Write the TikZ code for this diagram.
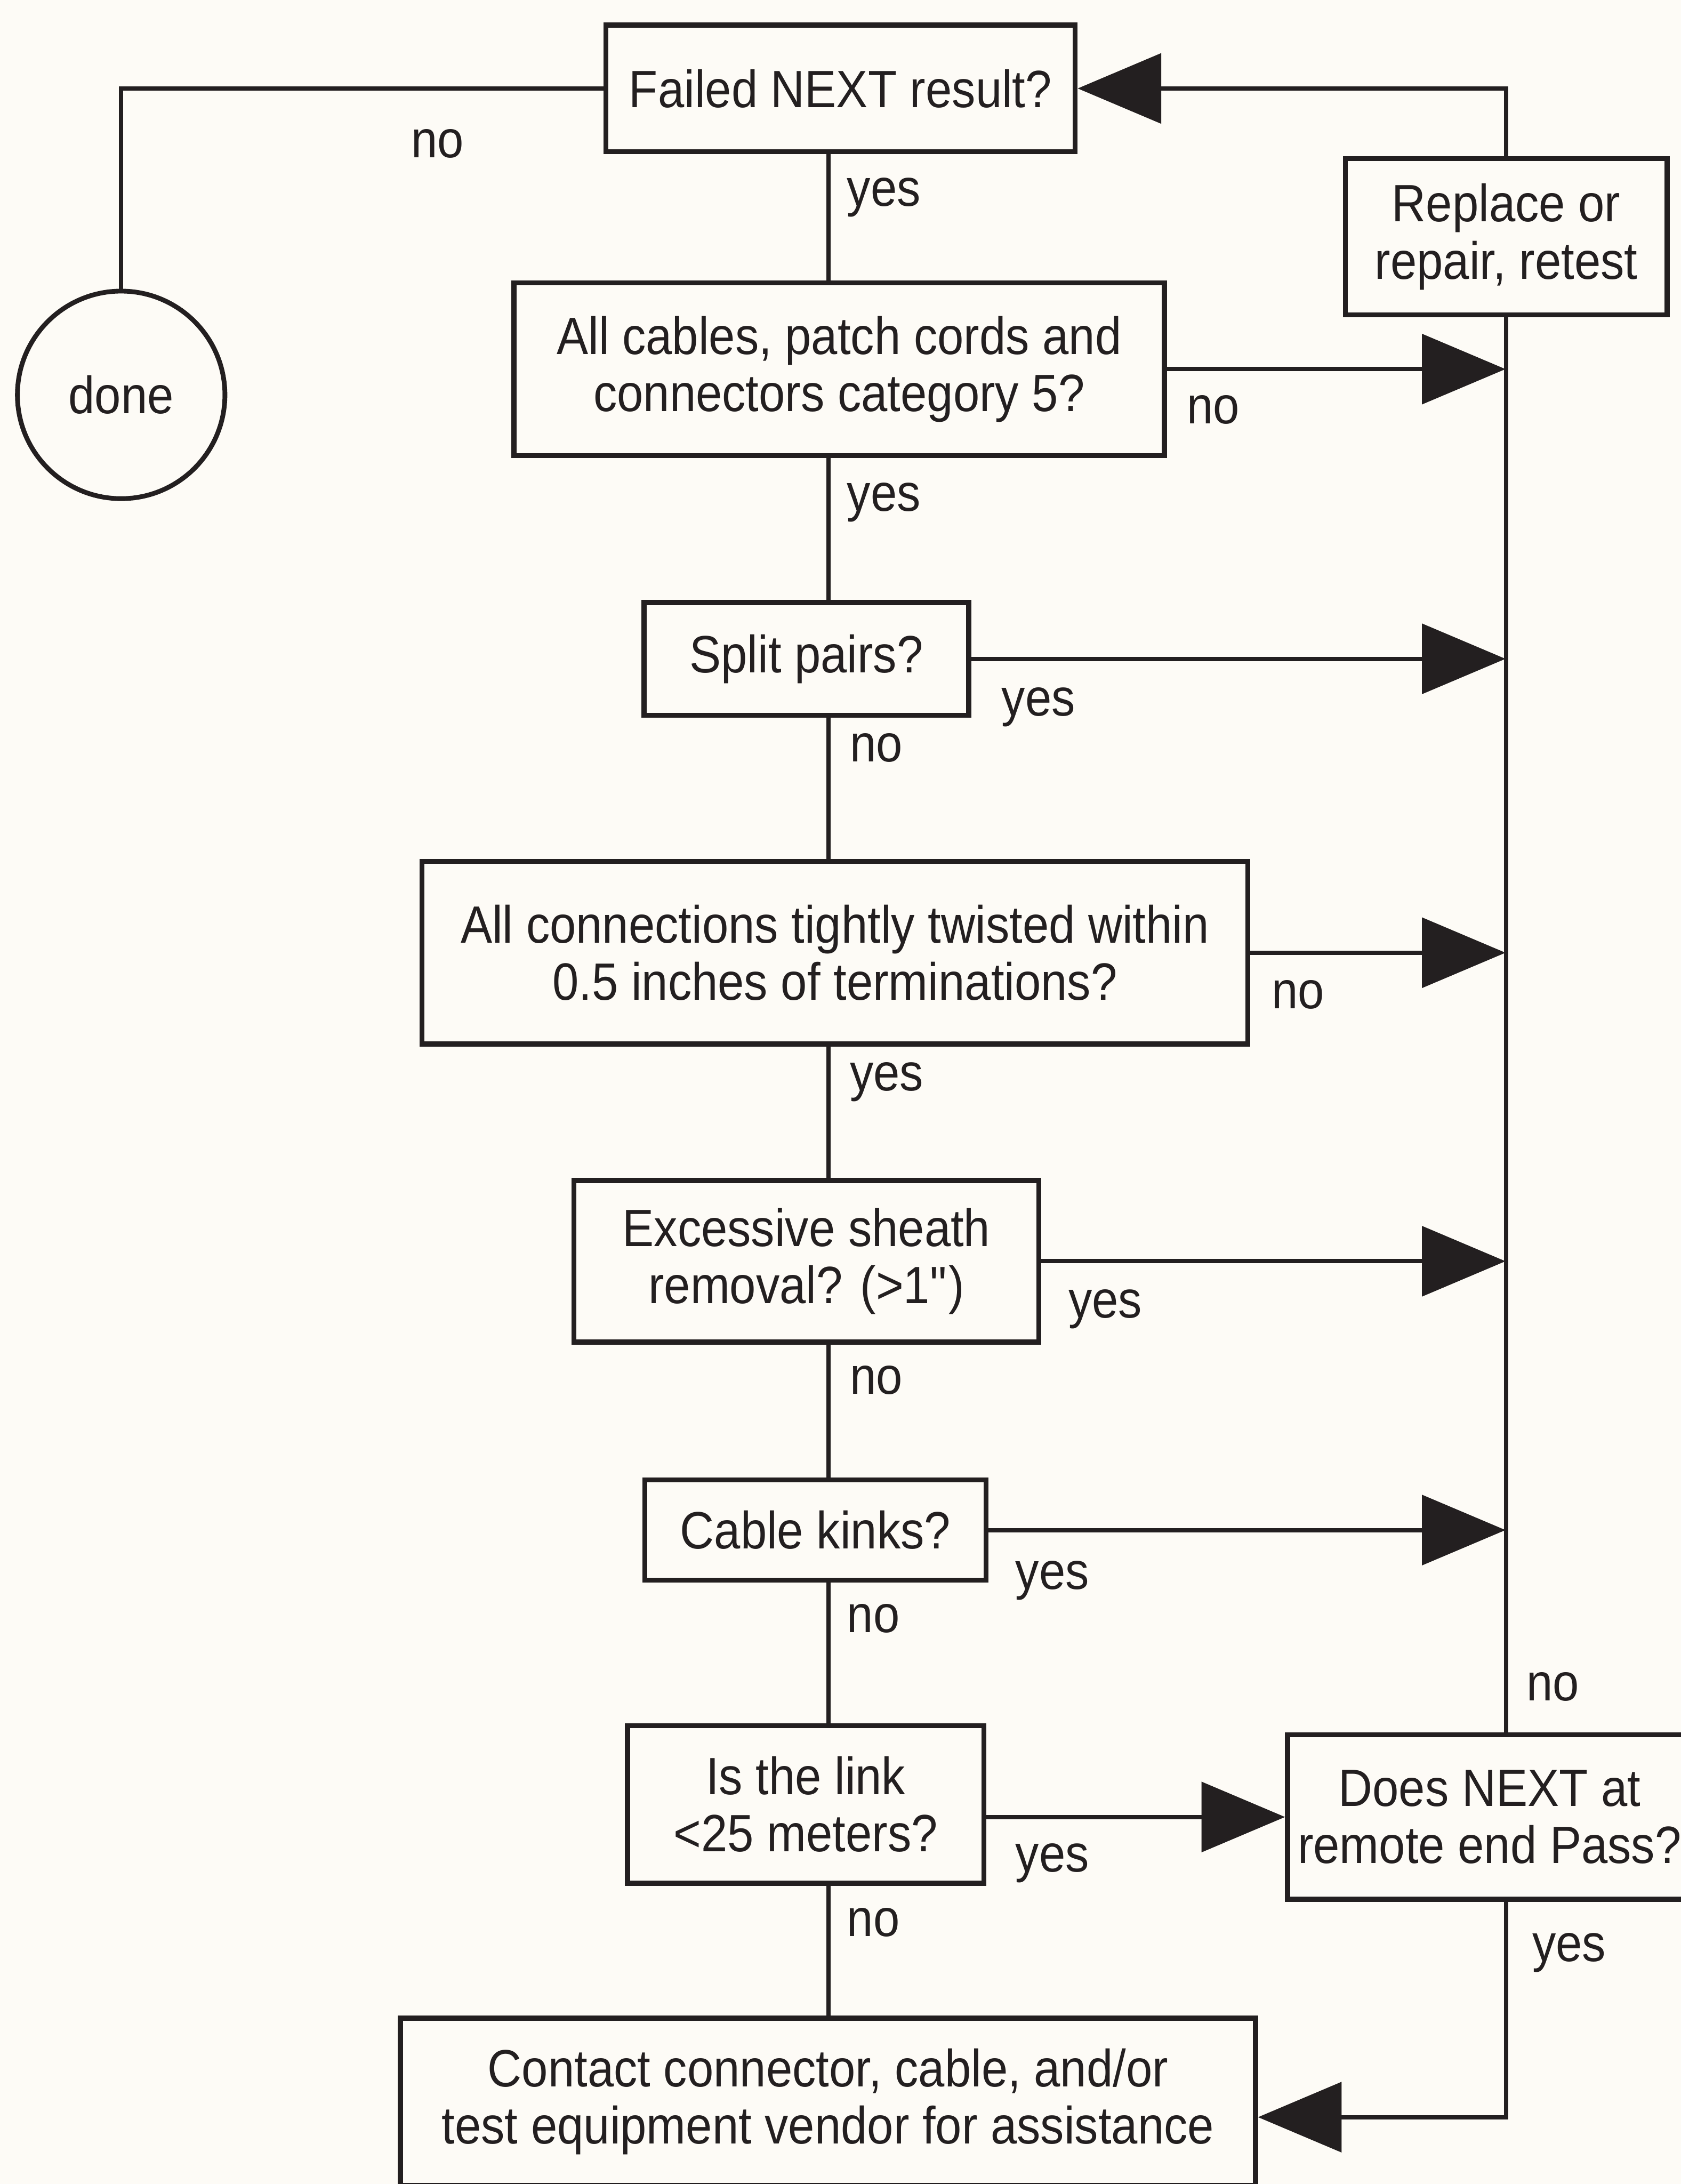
\documentclass[tikz,border=0pt]{standalone}
\usepackage{fontspec}
\setmainfont[FakeStretch=0.9]{Liberation Sans}
\usetikzlibrary{arrows.meta}
\definecolor{ink}{RGB}{35,31,32}
\definecolor{paper}{RGB}{253,251,246}
\begin{document}
\begin{tikzpicture}[x=1pt,y=-1pt,
  every node/.style={text=ink,font=\fontsize{37.7pt}{41pt}\selectfont},
  stepbox/.style={draw=ink,line width=3.6pt,rectangle,inner sep=0pt,align=center},
  endcircle/.style={draw=ink,line width=3.4pt,circle,inner sep=0pt,minimum size=149pt},
  link/.style={draw=ink,line width=3pt},
  flow/.style={link,-{Triangle[length=60pt,width=50pt]}},
  lbl/.style={anchor=base west,inner sep=0pt}]
\fill[paper] (0,0) rectangle (1207,1568);
\useasboundingbox (0,0) rectangle (1207,1568);

% decision and action boxes
\node[stepbox,minimum width=337pt,minimum height=91pt] (fail) at (603.5,63.5) {Failed NEXT result?};
\node[endcircle] (done) at (87,283.5) {done};
\node[stepbox,minimum width=231pt,minimum height=112pt] (replace) at (1081.5,170) {Replace or\\repair, retest};
\node[stepbox,minimum width=467pt,minimum height=124pt] (cat5) at (602.5,265) {All cables, patch cords and\\connectors category 5?};
\node[stepbox,minimum width=233pt,minimum height=81pt] (split) at (579,473) {Split pairs?};
\node[stepbox,minimum width=593pt,minimum height=131pt] (twist) at (599.5,684) {All connections tightly twisted within\\0.5 inches of terminations?};
\node[stepbox,minimum width=334pt,minimum height=116pt] (sheath) at (579,905.5) {Excessive sheath\\removal? (>1\textquotedbl)};
\node[stepbox,minimum width=245pt,minimum height=72pt] (kinks) at (585.5,1098.5) {Cable kinks?};
\node[stepbox,minimum width=256pt,minimum height=113pt] (link) at (578.5,1295.5) {Is the link\\<25 meters?};
\node[stepbox,minimum width=290pt,minimum height=118pt] (remote) at (1069.5,1304.5) {Does NEXT at\\remote end Pass?};
\node[stepbox,minimum width=614pt,minimum height=120pt] (vendor) at (594.5,1509) {Contact connector, cable, and/or\\test equipment vendor for assistance};

% spine and return bus
\coordinate (spine) at (595,0);
\coordinate (bus) at (1081,0);

% main yes/no chain
\draw[link] (fail.south -| spine) -- (cat5.north -| spine);
\draw[link] (cat5.south -| spine) -- (split.north -| spine);
\draw[link] (split.south -| spine) -- (twist.north -| spine);
\draw[link] (twist.south -| spine) -- (sheath.north -| spine);
\draw[link] (sheath.south -| spine) -- (kinks.north -| spine);
\draw[link] (kinks.south -| spine) -- (link.north -| spine);
\draw[link] (link.south -| spine) -- (vendor.north -| spine);

% exit to done
\draw[link] (fail.west) -| (done.north);

% branches into the repair bus
\draw[flow] (cat5.east) -- (cat5.east -| bus);
\draw[flow] (split.east) -- (split.east -| bus);
\draw[flow] (twist.east) -- (twist.east -| bus);
\draw[flow] (sheath.east) -- (sheath.east -| bus);
\draw[flow] (kinks.east) -- (kinks.east -| bus);
\draw[flow] (link.east |- remote.west) -- (remote.west);

% repair bus back to the top
\draw[link] (replace.south) -- (replace.south |- remote.north);
\draw[flow] (replace.north) |- (fail.east);
\draw[flow] (replace.south |- remote.south) |- ([yshift=-11pt]vendor.east);

% branch labels
\node[lbl] (l1) at (295,113) {no};
\node[lbl] (l2) at (608,148) {yes};
\node[lbl] (l3) at (852,304) {no};
\node[lbl] (l4) at (608,367) {yes};
\node[lbl] (l5) at (719,514) {yes};
\node[lbl] (l6) at (610,547) {no};
\node[lbl] (l7) at (913,724) {no};
\node[lbl] (l8) at (610,783) {yes};
\node[lbl] (l9) at (767,946) {yes};
\node[lbl] (l10) at (610,1001) {no};
\node[lbl] (l11) at (729,1141) {yes};
\node[lbl] (l12) at (608,1172) {no};
\node[lbl] (l13) at (1096,1221) {no};
\node[lbl] (l14) at (729,1344) {yes};
\node[lbl] (l15) at (608,1390) {no};
\node[lbl] (l16) at (1100,1408) {yes};
\end{tikzpicture}
\end{document}
